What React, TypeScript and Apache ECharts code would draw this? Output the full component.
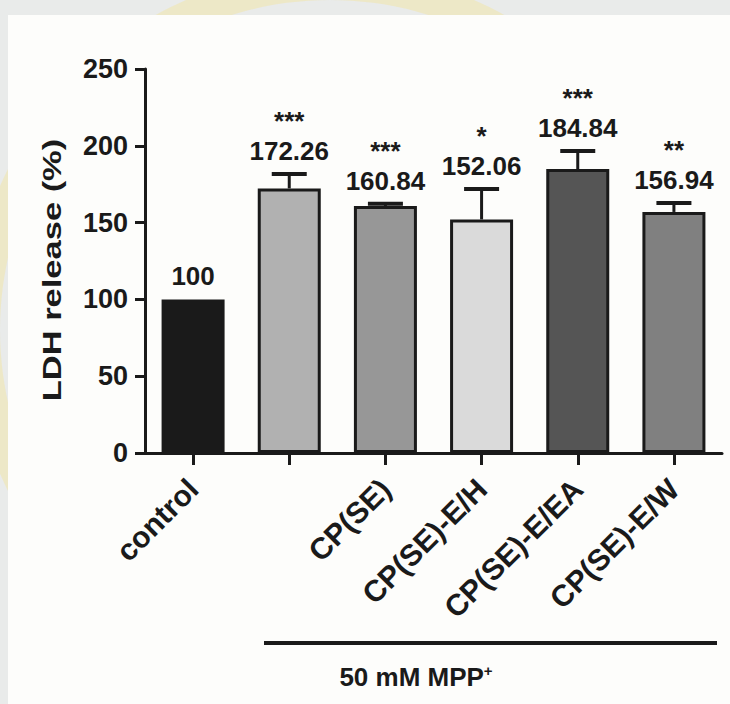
import React, { useEffect, useRef } from "react";
import * as echarts from "echarts";

const categories = ["control", "", "CP(SE)", "CP(SE)-E/H", "CP(SE)-E/EA", "CP(SE)-E/W"];
const values = [100, 172.26, 160.84, 152.06, 184.84, 156.94];
const errors = [0, 9.4, 1.5, 19.8, 11.8, 5.8];
const stars = ["", "***", "***", "*", "***", "**"];
const valueLabels = ["100", "172.26", "160.84", "152.06", "184.84", "156.94"];
const barColors = ["#1a1a1a", "#b1b1b1", "#979797", "#dadada", "#555555", "#808080"];
const yMin = 0;
const yMax = 250;
const yStep = 50;
const yTitle = "LDH release (%)";
const groupLabel = "50 mM MPP";
const groupSup = "+";

const FONT = "'Liberation Sans', Arial, Helvetica, sans-serif";
const INK = "#1a1a1a";

export default function App() {
  const ref = useRef<HTMLDivElement>(null);
  useEffect(() => {
    if (!ref.current) return;
    const chart = echarts.init(ref.current, null, { renderer: "svg" });
    const option: any = {
      animation: false,
      backgroundColor: "#e9ebea",
      grid: { left: 145, right: 8, top: 69, bottom: 251, containLabel: false },
      graphic: [
        { type: "ring", shape: { cx: 330, cy: 330, r: 360, r0: 330 }, style: { fill: "rgba(250,225,120,0.3)" }, z: -10 },
        { type: "rect", shape: { x: 8, y: 15, width: 722, height: 689 }, style: { fill: "#fdfdfb" }, z: -5 },
        {
          type: "text",
          x: 52,
          y: 270,
          rotation: Math.PI / 2,
          scaleX: 1.38,
          style: { text: yTitle, align: "center", verticalAlign: "middle", fontSize: 25, fontWeight: "bold", fontFamily: FONT, fill: INK },
        },
        { type: "line", shape: { x1: 264, y1: 643, x2: 717, y2: 643 }, style: { stroke: INK, lineWidth: 4 } },
        {
          type: "text",
          x: 416,
          y: 677,
          style: {
            text: "{a|" + groupLabel + "}{s|" + groupSup + "}",
            align: "center",
            verticalAlign: "middle",
            rich: {
              a: { fontSize: 26, fontWeight: "bold", fontFamily: FONT, fill: INK, color: INK },
              s: { fontSize: 15, fontWeight: "bold", fontFamily: FONT, fill: INK, color: INK, verticalAlign: "top", padding: [0, 0, 14, 0] },
            },
          },
        },
      ],
      xAxis: {
        type: "category",
        data: categories,
        axisLine: { show: true, lineStyle: { color: INK, width: 3 } },
        axisTick: { show: true, alignWithLabel: true, length: 12, lineStyle: { color: INK, width: 3 } },
        axisLabel: { interval: 0, rotate: 45, margin: 31, fontSize: 30, fontWeight: "bold", fontFamily: FONT, color: INK },
      },
      yAxis: {
        type: "value",
        min: yMin,
        max: yMax,
        interval: yStep,
        axisLine: { show: true, lineStyle: { color: INK, width: 3 } },
        axisTick: { show: true, length: 10, lineStyle: { color: INK, width: 3 } },
        axisLabel: { margin: 17, fontSize: 27, fontWeight: "bold", fontFamily: FONT, color: INK },
        splitLine: { show: false },
      },
      series: [
        {
          type: "bar",
          barWidth: 63,
          data: values.map((v, i) => ({ value: v, itemStyle: { color: barColors[i], borderColor: INK, borderWidth: 3 } })),
          z: 2,
        },
        {
          type: "custom",
          z: 3,
          data: values.map((v, i) => [i, v, errors[i]]),
          renderItem: (params: any, api: any) => {
            const i = params.dataIndex;
            const v = api.value(1);
            const e = api.value(2);
            const base = api.coord([api.value(0), v]);
            const top = api.coord([api.value(0), v + e]);
            const children: any[] = [];
            if (e > 0) {
              children.push({ type: "line", shape: { x1: base[0], y1: base[1], x2: top[0], y2: top[1] }, style: { stroke: INK, lineWidth: 3 } });
              children.push({ type: "line", shape: { x1: top[0] - 17.5, y1: top[1], x2: top[0] + 17.5, y2: top[1] }, style: { stroke: INK, lineWidth: 4 } });
            }
            const txt = stars[i] ? stars[i] + "\n" + valueLabels[i] : valueLabels[i];
            children.push({
              type: "text",
              style: {
                text: txt,
                x: top[0],
                y: top[1] - 8,
                align: "center",
                verticalAlign: "bottom",
                fontSize: 26,
                lineHeight: 30,
                fontWeight: "bold",
                fontFamily: FONT,
                fill: INK,
              },
            });
            return { type: "group", children };
          },
        },
      ],
    };
    chart.setOption(option);
    return () => chart.dispose();
  }, []);
  return <div ref={ref} style={{ position: "fixed", left: 0, top: 0, width: 730, height: 704 }} />;
}
